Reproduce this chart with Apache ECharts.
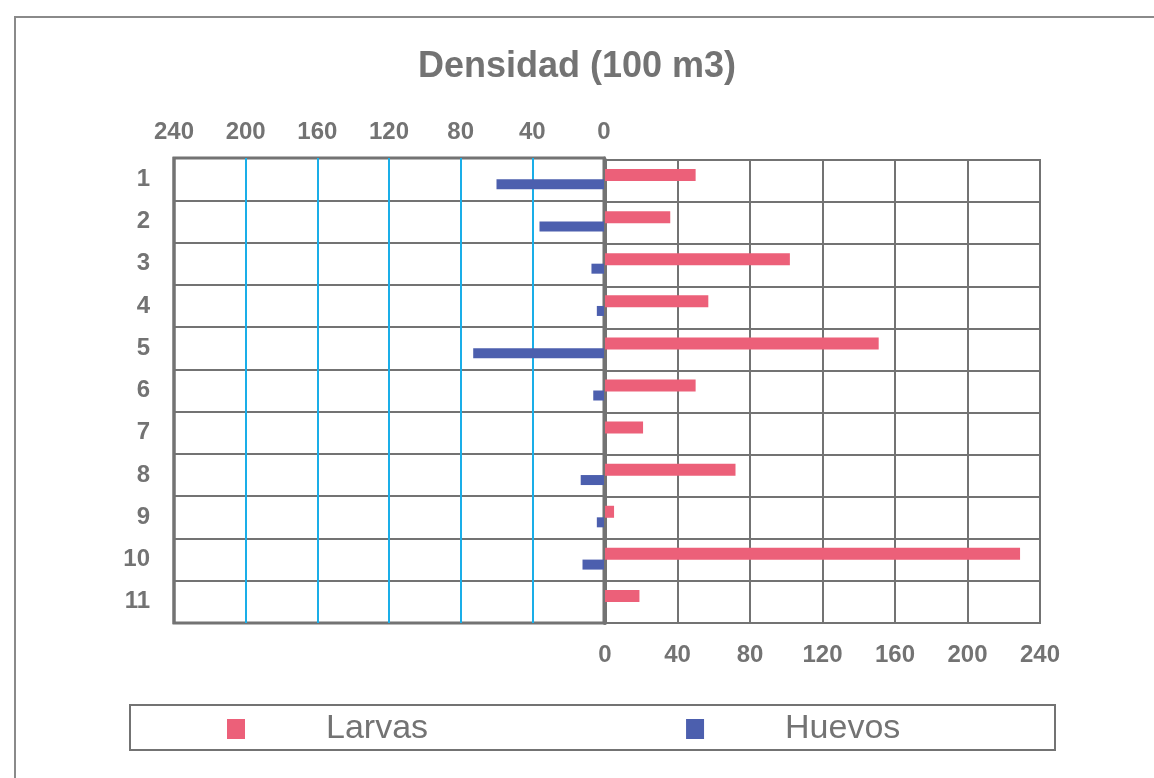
<!DOCTYPE html>
<html>
<head>
<meta charset="utf-8">
<script src="https://cdn.jsdelivr.net/npm/echarts@6/dist/echarts.min.js"></script>
<style>html,body{margin:0;padding:0;background:#fff}#c{width:1154px;height:778px}</style>
</head>
<body>
<div id="c"></div>
<script>
const categories = ['1','2','3','4','5','6','7','8','9','10','11'];
const larvas = [50, 36, 102, 57, 151, 50, 21, 72, 5, 229, 19];
const huevos = [60, 36, 7, 4, 73, 6, 0, 13, 4, 12, 0];
const ticks = [0, 40, 80, 120, 160, 200, 240];
const title = 'Densidad (100 m3)';

const gray = '#737373';
const pink = '#ec6079';
const blue = '#4c5fae';
const font = 'Liberation Sans, Arial, sans-serif';

const chart = echarts.init(document.getElementById('c'), null, {renderer: 'canvas'});
const axisLabelStyle = {color: gray, fontWeight: 'bold', fontSize: 24, fontFamily: font};
chart.setOption({
  animation: false,
  backgroundColor: '#fff',
  title: {text: title, left: 'center', top: 44, textStyle: {color: gray, fontSize: 36, fontWeight: 'bold', fontFamily: font}},
  legend: {
    data: ['Larvas', 'Huevos'], left: 222, top: 707, itemWidth: 18, itemHeight: 20, itemGap: 258, icon: 'rect',
    textStyle: {color: gray, fontSize: 34, fontFamily: font, padding: [0, 0, 0, 76]}
  },
  graphic: [
    {type: 'polyline', shape: {points: [[15, 778], [15, 17], [1154, 17]]}, style: {stroke: '#8a8a8a', lineWidth: 2, fill: null}},
    {type: 'rect', shape: {x: 130, y: 705, width: 925, height: 45}, style: {stroke: gray, lineWidth: 2, fill: null}, z: -1},
    {type: 'line', shape: {x1: 174, y1: 157, x2: 174, y2: 624}, style: {stroke: gray, lineWidth: 3}, z: 10}
  ],
  grid: [
    {left: 174, right: 550, top: 158, bottom: 155, show: true, borderColor: gray, borderWidth: 3},
    {left: 605, right: 114, top: 160, bottom: 155, show: true, borderColor: gray, borderWidth: 2}
  ],
  xAxis: [
    {gridIndex: 0, type: 'value', min: 0, max: 240, interval: 40, inverse: true, position: 'top',
     axisLine: {show: false}, axisTick: {show: false},
     axisLabel: Object.assign({margin: 14}, axisLabelStyle),
     splitLine: {show: true, lineStyle: {color: '#1aaee8', width: 2}}},
    {gridIndex: 1, type: 'value', min: 0, max: 240, interval: 40, position: 'bottom',
     axisLine: {show: false}, axisTick: {show: false},
     axisLabel: Object.assign({margin: 20}, axisLabelStyle),
     splitLine: {show: true, lineStyle: {color: gray, width: 2}}}
  ],
  yAxis: [
    {gridIndex: 0, type: 'category', data: categories, inverse: true, position: 'left',
     axisLine: {show: true, lineStyle: {color: gray, width: 3}}, axisTick: {show: false},
     axisLabel: Object.assign({margin: 24}, axisLabelStyle),
     splitLine: {show: true, lineStyle: {color: gray, width: 2}}},
    {gridIndex: 1, type: 'category', data: categories, inverse: true, position: 'left',
     axisLine: {show: true, lineStyle: {color: gray, width: 4}}, axisTick: {show: false},
     axisLabel: {show: false},
     splitLine: {show: true, lineStyle: {color: gray, width: 2}}}
  ],
  series: [
    {name: 'pad0', type: 'bar', xAxisIndex: 0, yAxisIndex: 0, data: categories.map(() => 0), barWidth: 10, barGap: '0%', silent: true, itemStyle: {color: 'transparent'}},
    {name: 'Huevos', type: 'bar', xAxisIndex: 0, yAxisIndex: 0, data: huevos, barWidth: 10, barGap: '0%', itemStyle: {color: blue}},
    {name: 'Larvas', type: 'bar', xAxisIndex: 1, yAxisIndex: 1, data: larvas, barWidth: 12, barGap: '0%', itemStyle: {color: pink}},
    {name: 'pad1', type: 'bar', xAxisIndex: 1, yAxisIndex: 1, data: categories.map(() => 0), barWidth: 12, barGap: '0%', silent: true, itemStyle: {color: 'transparent'}}
  ]
});
</script>
</body>
</html>
